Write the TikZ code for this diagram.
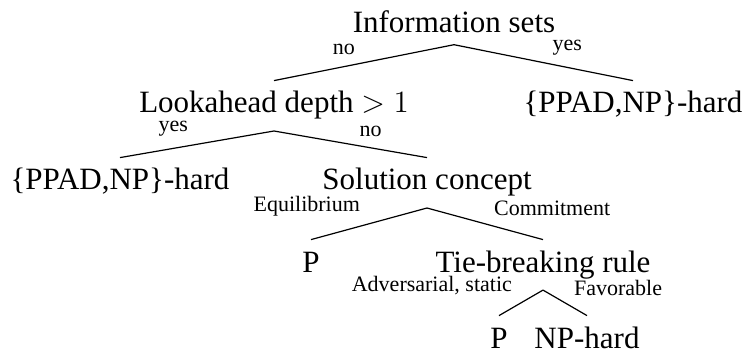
\documentclass[tikz,border=0pt]{standalone}
\usepackage{fix-cm}
\usepackage{fontspec}
\setmainfont{Liberation Serif}
\begin{document}
\begin{tikzpicture}[x=0.5pt,y=0.5pt,
        tnode/.style={anchor=base,font=\fontsize{15.5}{18}\selectfont,
                      text height=10.5pt,inner xsep=2pt,inner ysep=5.5pt},
        elab/.style={font=\fontsize{11}{13}\selectfont,
                     inner xsep=4.25pt,inner ysep=3.5pt,midway},
        branch/.style={line width=0.6pt}]
        \useasboundingbox (0,0) rectangle (748,353);

        \node[tnode] (info)  at (454,320) {Information sets};
        \node[tnode] (look)  at (274,240) {Lookahead depth $>1$};
        \node[tnode] (hardR) at (633,240) {\{PPAD,NP\}-hard};
        \node[tnode] (hardL) at (120,163) {\{PPAD,NP\}-hard};
        \node[tnode] (sol)   at (427,163) {Solution concept};
        \node[tnode] (pL)    at (311,81)  {P};
        \node[tnode] (tie)   at (543,81)  {Tie-breaking rule};
        \node[tnode] (pB)    at (499,5)   {P};
        \node[tnode] (nph)   at (587,5)   {NP-hard};

        \draw[branch] (info.south) -- (look.north)  node[elab,above left]  {no};
        \draw[branch] (info.south) -- (hardR.north) node[elab,above right] {yes};
        \draw[branch] (look.south) -- (hardL.north) node[elab,above left]  {yes};
        \draw[branch] (look.south) -- (sol.north)   node[elab,above right] {no};
        \draw[branch] (sol.south)  -- (pL.north)    node[elab,above left]  {Equilibrium};
        \draw[branch] (sol.south)  -- (tie.north)   node[elab,above right] {Commitment};
        \draw[branch] (tie.south)  -- (pB.north)    node[elab,above left]  {Adversarial, static};
        \draw[branch] (tie.south)  -- (nph.north)   node[elab,above right] {Favorable};
      \end{tikzpicture}
\end{document}
